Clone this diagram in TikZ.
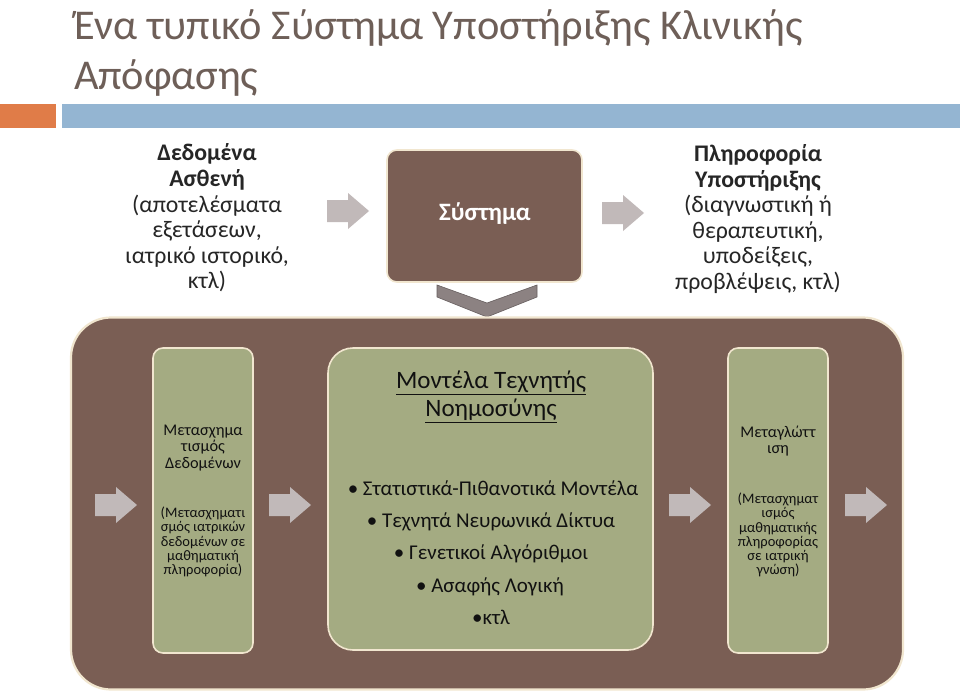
\documentclass[tikz,border=0pt]{standalone}
\usepackage{fontspec}
\setmainfont{Carlito}
\begin{document}
\begin{tikzpicture}[x=1pt,y=-1pt,
  every node/.style={inner sep=0pt, outer sep=0pt},
  brownbox/.style={fill=brownc, draw=creamc, line width=1.6pt},
  greenbox/.style={fill=greenc, draw=creamc, line width=1.6pt},
  toptext/.style={align=center, text=darkc, font=\fontsize{23.8}{25.6}\selectfont},
  headtext/.style={align=center, text=blackc, font=\fontsize{16.3}{16.5}\selectfont},
  smalltext/.style={align=center, text=blackc, font=\fontsize{14.5}{14.2}\selectfont},
  itemtext/.style={text=blackc, font=\fontsize{21}{24}\selectfont},
  blockarr/.pic={\fill[arrgrayc] (0,-11)--(21,-11)--(21,-18)--(42,0)--(21,18)--(21,11)--(0,11)--cycle;}
]
\definecolor{titlec}{HTML}{6E5F58}
\definecolor{orangec}{HTML}{E07C48}
\definecolor{bluec}{HTML}{94B5D2}
\definecolor{brownc}{HTML}{7A5E54}
\definecolor{creamc}{HTML}{F1E6CF}
\definecolor{greenc}{HTML}{A4AB82}
\definecolor{arrgrayc}{HTML}{C1B9B9}
\definecolor{chevfill}{HTML}{8C8282}
\definecolor{chevdraw}{HTML}{665E5E}
\definecolor{darkc}{HTML}{262626}
\definecolor{blackc}{HTML}{111111}

\useasboundingbox[fill=white] (0,0) rectangle (960,690);

% title
\node[anchor=base west, text=titlec, font=\fontsize{42.4}{50}\selectfont] (title1) at (74,40) {Ένα τυπικό Σύστημα Υποστήριξης Κλινικής};
\node[anchor=base west, text=titlec, font=\fontsize{42.4}{50}\selectfont] (title2) at (74,90) {Απόφασης};

% bars
\fill[orangec] (0,104) rectangle (56,128);
\fill[bluec] (62,104) rectangle (960,128);

% top row
\node[toptext] (patient) at (207,218) {\textbf{Δεδομένα}\\\textbf{Ασθενή}\\(αποτελέσματα\\εξετάσεων,\\ιατρικό ιστορικό,\\κτλ)};
\pic at (327,211) {blockarr};
\node[brownbox, rounded corners=10pt, minimum width=195pt, minimum height=132pt] (system) at (484.5,216) {};
\node[text=white, font=\fontsize{25}{28}\selectfont\bfseries] (systemlbl) at (485,214) {Σύστημα};
\pic at (602,213) {blockarr};
\node[toptext] (support) at (758,219) {\textbf{Πληροφορία}\\\textbf{Υποστήριξης}\\(διαγνωστική ή\\θεραπευτική,\\υποδείξεις,\\προβλέψεις, κτλ)};

% chevron
\draw[fill=chevfill, draw=chevdraw, line width=0.6pt, line join=miter]
  (437,285) -- (487,303) -- (537,285) -- (537,297) -- (487,317) -- (437,297) -- cycle;

% big container
\node[brownbox, rounded corners=40pt, minimum width=832pt, minimum height=372pt, line width=2.2pt] (engine) at (487,503.5) {};

% inner boxes
\node[greenbox, rounded corners=10pt, minimum width=100pt, minimum height=305pt] (transform) at (203,500.5) {};
\node[greenbox, rounded corners=25pt, minimum width=325pt, minimum height=302pt] (models) at (490.5,499) {};
\node[greenbox, rounded corners=10pt, minimum width=100pt, minimum height=305pt] (compile) at (778,500.5) {};

% inner arrows
\pic at (95,505) {blockarr};
\pic at (269,505) {blockarr};
\pic at (669,505) {blockarr};
\pic at (845,505) {blockarr};

% texts in left box
\node[headtext, anchor=center] (transformhead) at (203,448) {Μετασχημα\\τισμός\\Δεδομένων};
\node[smalltext, anchor=center] (transformbody) at (203,542) {(Μετασχηματι\\σμός ιατρικών\\δεδομένων σε\\μαθηματική\\πληροφορία)};

% texts in middle box
\node[align=center, text=blackc, font=\fontsize{25}{28}\selectfont] (modelshead) at (491,397) {\underline{Μοντέλα Τεχνητής}\\\underline{Νοημοσύνης}};
\node[itemtext] (m1) at (493,488) {• Στατιστικά-Πιθανοτικά Μοντέλα};
\node[itemtext] (m2) at (491,522) {• Τεχνητά Νευρωνικά Δίκτυα};
\node[itemtext] (m3) at (491,554) {• Γενετικοί Αλγόριθμοι};
\node[itemtext] (m4) at (490,587) {• Ασαφής Λογική};
\node[itemtext] (m5) at (491,617) {•κτλ};

% texts in right box
\node[headtext, anchor=center] (compilehead) at (778,441) {Μεταγλώττ\\ιση};
\node[smalltext, anchor=center] (compilebody) at (778,535) {(Μετασχηματ\\ισμός\\μαθηματικής\\πληροφορίας\\σε ιατρική\\γνώση)};
\end{tikzpicture}
\end{document}
